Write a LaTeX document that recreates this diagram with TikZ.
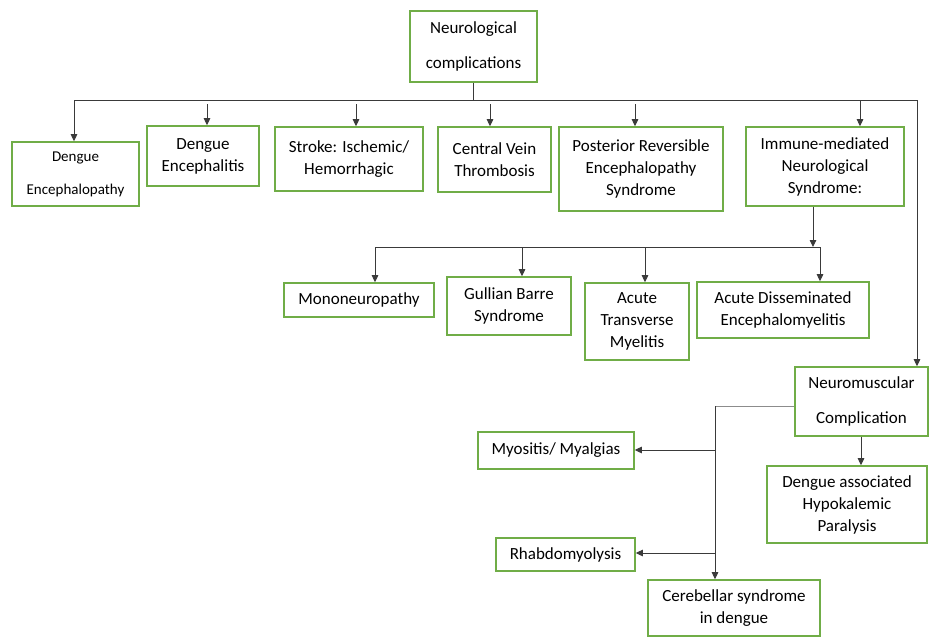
\documentclass[tikz,border=0pt]{standalone}
\usepackage{fontspec}
\setmainfont{Carlito}
\usetikzlibrary{arrows.meta}
\definecolor{boxgreen}{HTML}{70AD47}
\definecolor{linegray}{HTML}{3A3A3A}
\begin{document}
\begin{tikzpicture}[x=1pt,y=-1pt,
  box/.style={draw=boxgreen,line width=1.6pt,align=center,inner sep=0pt,
    font=\fontsize{17}{22}\selectfont},
  conn/.style={draw=linegray,line width=0.9pt},
  arr/.style={conn,-{Triangle[length=7pt,width=6.5pt]}}]
\fill[white] (0,0) rectangle (929,637);
\useasboundingbox (0,0) rectangle (929,637);

% nodes
\node[box,minimum width=127pt,minimum height=71pt,font=\fontsize{17}{35}\selectfont] (top) at (473.5,46.5) {Neurological\\complications};
\node[box,minimum width=127pt,minimum height=64pt,font=\fontsize{15}{33}\selectfont] (de) at (75.5,174) {Dengue\\Encephalopathy};
\node[box,minimum width=112pt,minimum height=60pt] (denc) at (203,156) {Dengue\\Encephalitis};
\node[box,minimum width=148pt,minimum height=64pt] (stroke) at (349,159) {Stroke: Ischemic/\\Hemorrhagic};
\node[box,minimum width=113pt,minimum height=65pt] (cvt) at (494.5,159.5) {Central Vein\\Thrombosis};
\node[box,minimum width=164pt,minimum height=84pt] (pres) at (641,169) {Posterior Reversible\\Encephalopathy\\Syndrome};
\node[box,minimum width=158pt,minimum height=79pt] (imm) at (825,166.5) {Immune-mediated\\Neurological\\Syndrome:};
\node[box,minimum width=150pt,minimum height=34pt] (mono) at (359,300) {Mononeuropathy};
\node[box,minimum width=124pt,minimum height=58pt] (gbs) at (509,306) {Gullian Barre\\Syndrome};
\node[box,minimum width=104pt,minimum height=77pt] (atm) at (637,321.5) {Acute\\Transverse\\Myelitis};
\node[box,minimum width=172pt,minimum height=56pt] (adem) at (783,310) {Acute Disseminated\\Encephalomyelitis};
\node[box,minimum width=133pt,minimum height=69pt,font=\fontsize{17}{35}\selectfont] (nm) at (861.5,401.5) {Neuromuscular\\Complication};
\node[box,minimum width=156pt,minimum height=37pt] (myo) at (556,450.5) {Myositis/ Myalgias};
\node[box,minimum width=160pt,minimum height=77pt] (dahp) at (847,504.5) {Dengue associated\\Hypokalemic\\Paralysis};
\node[box,minimum width=139pt,minimum height=33pt] (rhabdo) at (565.5,554.5) {Rhabdomyolysis};
\node[box,minimum width=172pt,minimum height=56pt] (cereb) at (734,608) {Cerebellar syndrome\\in dengue};

% bus coordinates
\coordinate (tb) at (473.5,100);
\coordinate (bL) at (74,100);
\coordinate (bR) at (917,100);
\coordinate (s2) at (207,104);
\coordinate (s3) at (356,104);
\coordinate (s4) at (490,104);
\coordinate (s5) at (635,104);
\coordinate (s6) at (860,101);
\coordinate (ib) at (813,247);
\coordinate (iL) at (375,247);
\coordinate (iR) at (820,247);
\coordinate (i2) at (522,248);
\coordinate (i3) at (645,248);
\coordinate (nL) at (715,406);
\coordinate (nM) at (715,450);
\coordinate (nR) at (715,553);
\coordinate (nB) at (715,553);

% top-level connectors
\draw[conn] (top.south -| tb) -- (tb);
\draw[conn] (bL) -- (bR);
\draw[arr] (bL) -- (bL |- de.north);
\draw[arr] (s2) -- (s2 |- denc.north);
\draw[arr] (s3) -- (s3 |- stroke.north);
\draw[arr] (s4) -- (s4 |- cvt.north);
\draw[arr] (s5) -- (s5 |- pres.north);
\draw[arr] (s6) -- (s6 |- imm.north);
\draw[arr] (bR) -- (bR |- nm.north);

% immune-mediated branch
\draw[arr] (imm.south -| ib) -- (ib);
\draw[conn] (iL) -- (iR);
\draw[arr] (iL) -- (iL |- mono.north);
\draw[arr] (i2) -- (i2 |- gbs.north);
\draw[arr] (i3) -- (i3 |- atm.north);
\draw[arr] (iR) -- (iR |- adem.north);

% neuromuscular branch
\draw[conn,draw=black!45] (nm.west |- nL) -- (nL);
\draw[arr] (nL) -- (nL |- cereb.north);
\draw[arr] (nM) -- (nM -| myo.east);
\draw[arr] (nR) -- (nR -| rhabdo.east);
\draw[arr] (nm.south -| 861,0) -- (dahp.north -| 861,0);
\end{tikzpicture}
\end{document}
